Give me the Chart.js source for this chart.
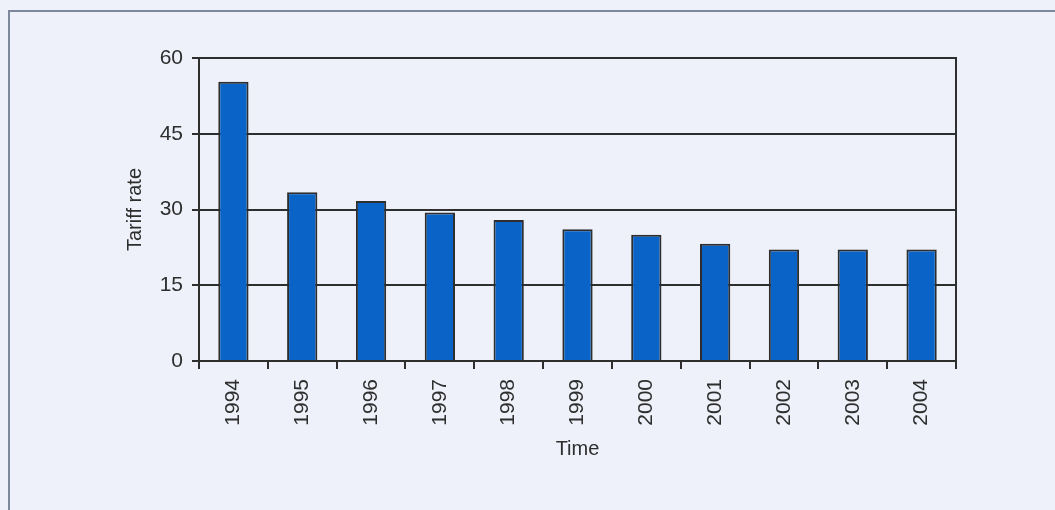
<!DOCTYPE html>
<html>
<head>
<meta charset="utf-8">
<script src="https://cdn.jsdelivr.net/npm/chart.js@4/dist/chart.umd.min.js"></script>
<style>
  html, body { margin: 0; padding: 0; background: #eef1f9; overflow: hidden; }
  #wrap { position: relative; width: 1055px; height: 510px; }
  #frame { position: absolute; left: 8px; top: 10px; width: 1100px; height: 560px;
           border-left: 2px solid #7d889c; border-top: 2px solid #7d889c; }
  canvas { position: absolute; left: 0; top: 0; }
</style>
</head>
<body>
<div id="wrap">
  <div id="frame"></div>
  <canvas id="chart" width="1055" height="510"></canvas>
</div>
<script>
const years = ['1994', '1995', '1996', '1997', '1998', '1999', '2000', '2001', '2002', '2003', '2004'];
const tariffRate = [55.3, 33.4, 31.7, 29.4, 27.9, 26.1, 25.0, 23.2, 22.1, 22.1, 22.1];
const yTicks = [0, 15, 30, 45, 60];

const ink = '#2e2e2e';
const font = { family: 'Liberation Sans, Arial, sans-serif', size: 20 };
const tickFont = { family: 'Liberation Sans, Arial, sans-serif', size: 21 };

// box round the plot area (top and right edges)
const plotBorder = {
  id: 'plotBorder',
  afterDatasetsDraw(chart) {
    const { ctx, chartArea: a } = chart;
    ctx.save();
    ctx.strokeStyle = ink;
    ctx.lineWidth = 2;
    ctx.strokeRect(a.left, a.top, a.right - a.left, a.bottom - a.top);
    ctx.restore();
  }
};

new Chart(document.getElementById('chart'), {
  type: 'bar',
  data: {
    labels: years,
    datasets: [{
      data: tariffRate,
      backgroundColor: '#0a63c6',
      borderColor: ink,
      borderWidth: 2,
      barPercentage: 0.44,
      categoryPercentage: 1
    }]
  },
  options: {
    responsive: false,
    animation: false,
    layout: { padding: { left: 123, right: 99, top: 58, bottom: 49 } },
    plugins: { legend: { display: false }, tooltip: { enabled: false } },
    scales: {
      x: {
        afterFit(scale) { scale.height = 100; },
        grid: { drawOnChartArea: false, drawTicks: true, tickLength: 8, color: ink, lineWidth: 2, offset: true },
        border: { display: true, color: ink, width: 2 },
        ticks: { color: ink, font: tickFont, minRotation: 90, maxRotation: 90, autoSkip: false, padding: 10 },
        title: { display: true, text: 'Time', color: ink, font, padding: 0 }
      },
      y: {
        min: 0,
        max: 60,
        afterFit(scale) { scale.width = 76; },
        afterBuildTicks(scale) { scale.ticks = yTicks.map(v => ({ value: v })); },
        grid: { color: ink, lineWidth: 2, tickLength: 7 },
        border: { display: true, color: ink, width: 2 },
        ticks: { color: ink, font: tickFont, padding: 9 },
        title: { display: true, text: 'Tariff rate', color: ink, font, padding: 0 }
      }
    }
  },
  plugins: [plotBorder]
});
</script>
</body>
</html>
